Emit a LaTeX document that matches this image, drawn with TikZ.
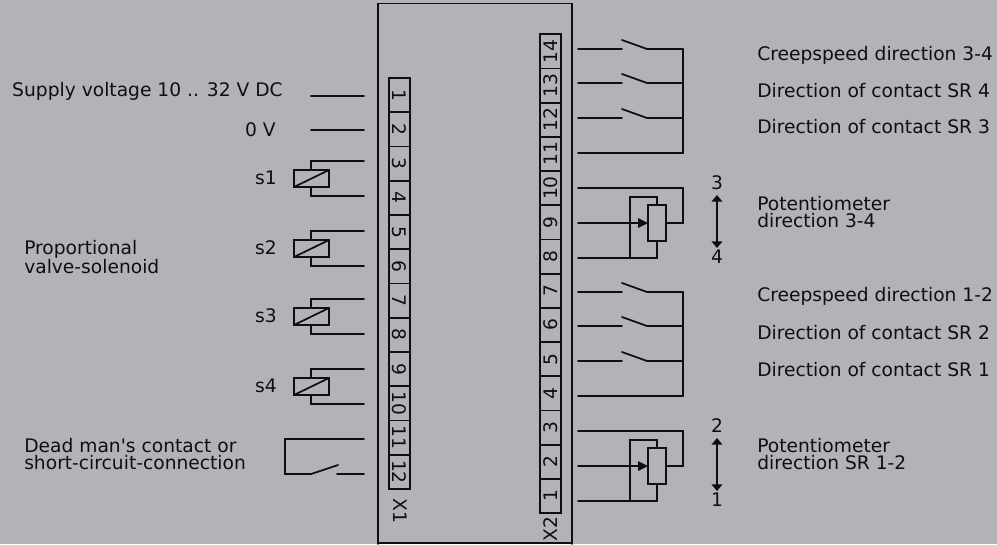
\documentclass[tikz,border=0pt]{standalone}
\usepackage{fontspec}
\setmainfont[Ligatures=TeXOff]{DejaVu Sans}
\usepackage{xcolor}
\usetikzlibrary{arrows.meta}
\definecolor{panelgrey}{RGB}{178,179,183}
\definecolor{inkgrey}{RGB}{15,15,15}
\tikzset{
	wire/.style={line width=1.3pt,color=inkgrey,line cap=round},
	lab/.style={inner sep=0pt,text=inkgrey,font=\fontsize{14}{13}\selectfont,align=left},
	terminal/.style={draw=inkgrey,line width=1.3pt,inner sep=0pt,minimum width=25.7pt,minimum height=15.7pt,text=inkgrey,font=\fontsize{14}{14}\selectfont}
}
\begin{document}
\begin{tikzpicture}[x=0.75pt,y=-0.75pt]
	\useasboundingbox (0,0) rectangle (997,544);
	\fill[panelgrey] (0,0) rectangle (997,544);
	\draw[wire] (378,544) -- (378,3.5) -- (572,3.5) -- (572,544);
	\draw[wire] (378,543) -- (572,543);
	% terminal strips
	\foreach \n in {1,...,12}
		\node[terminal,rotate=-90] (xone-\n) at (399.5,{78+34.25*(\n-0.5)}) {\n};
	\foreach \n in {1,...,14}
		\node[terminal,rotate=90] (xtwo-\n) at (550.5,{513-34.2*(\n-0.5)}) {\n};
	\node[lab,rotate=-90] (xone) at (400,511) {X1};
	\node[lab,rotate=90] (xtwo) at (551,529) {X2};
	% left side
	\node[lab,anchor=east] (supply) at (283,91) {Supply voltage 10 .. 32 V DC};
	\node[lab,anchor=east] (zero) at (276,130) {0 V};
	\draw[wire] (311,96) -- (364,96);
	\draw[wire] (311,130) -- (364,130);
	\foreach \y/\t in {161/s1,231/s2,299/s3,369/s4} {
		\draw[wire] (364,\y) -- (311,\y) -- (311,\y+9);
		\draw[wire] (311,\y+26) -- (311,\y+35) -- (364,\y+35);
		\draw[wire] (294,\y+9) rectangle (329,\y+26);
		\draw[wire] (294,\y+26) -- (329,\y+9);
		\node[lab,anchor=east] (coil-\t) at (277,\y+17) {\t};
	}
	\node[lab,anchor=west] (solenoid) at (24,257) {Proportional\\valve-solenoid};
	\node[lab,anchor=west] (deadman) at (24,454) {Dead man's contact or\\short-circuit-connection};
	\draw[wire] (364,439) -- (285,439) -- (285,474) -- (311,474) -- (338,465);
	\draw[wire] (337,474) -- (364,474);
	% right side, contacts
	\foreach \y in {49,292} {
		\draw[wire] (578,\y) -- (622,\y);
		\draw[wire] (622,\y-9) -- (647,\y) -- (683,\y);
		\draw[wire] (578,\y+34) -- (622,\y+34);
		\draw[wire] (622,\y+25) -- (647,\y+34) -- (683,\y+34);
		\draw[wire] (578,\y+69) -- (622,\y+69);
		\draw[wire] (622,\y+60) -- (647,\y+69) -- (683,\y+69);
		\draw[wire] (683,\y) -- (683,\y+104) -- (578,\y+104);
	}
	% right side, potentiometers
	\foreach \y/\u/\d in {223/3/4,466/2/1} {
		\draw[wire] (578,\y-35) -- (683,\y-35) -- (683,\y) -- (666,\y);
		\draw[wire] (578,\y+35) -- (657,\y+35) -- (657,\y+18);
		\draw[wire] (630,\y+35) -- (630,\y-26) -- (657,\y-26) -- (657,\y-18);
		\draw[wire] (648,\y-18) rectangle (666,\y+18);
		\draw[wire] (578,\y) -- (640,\y);
		\fill[inkgrey] (648,\y) -- (638,\y-5) -- (638,\y+5) -- cycle;
		\draw[wire,{Triangle[width=8pt,length=5pt]}-{Triangle[width=8pt,length=5pt]}] (717,\y-28) -- (717,\y+25);
		\node[lab] (up-\u) at (717,\y-40) {\u};
		\node[lab] (down-\d) at (717,\y+34) {\d};
	}
	\node[lab,anchor=west] (sr-a) at (757,55) {Creepspeed direction 3-4};
	\node[lab,anchor=west] (sr-b) at (757,91) {Direction of contact SR 4};
	\node[lab,anchor=west] (sr-c) at (757,127) {Direction of contact SR 3};
	\node[lab,anchor=west] (pot-a) at (757,212) {Potentiometer\\direction 3-4};
	\node[lab,anchor=west] (sr-d) at (757,296) {Creepspeed direction 1-2};
	\node[lab,anchor=west] (sr-e) at (757,333) {Direction of contact SR 2};
	\node[lab,anchor=west] (sr-f) at (757,370) {Direction of contact SR 1};
	\node[lab,anchor=west] (pot-b) at (757,454) {Potentiometer\\direction SR 1-2};
\end{tikzpicture}
\end{document}
